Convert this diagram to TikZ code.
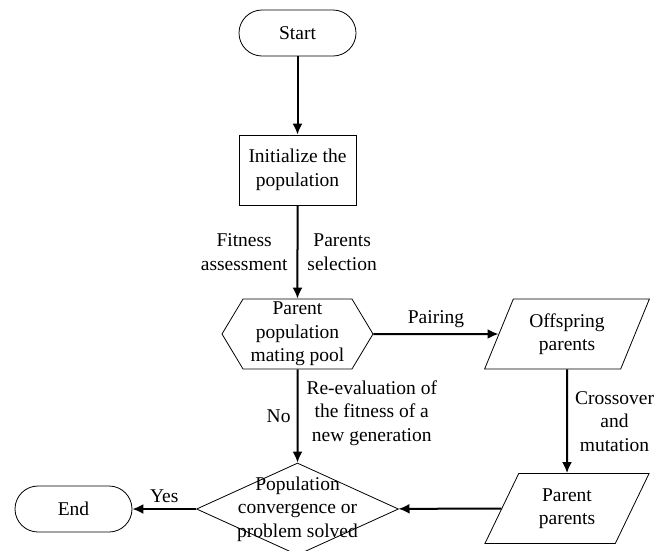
\documentclass[tikz,border=0pt]{standalone}
\usepackage{fontspec}
\setmainfont{Liberation Serif}
\usetikzlibrary{shapes.geometric,shapes.misc,shapes.symbols,arrows.meta}

\tikzset{
	term/.style={draw, line width=.8pt, rounded corners=23pt, minimum width=117pt, minimum height=46pt},
	proc/.style={draw, line width=.8pt, minimum width=117pt, minimum height=70pt, align=center},
	prep/.style={draw, line width=.8pt, signal, signal to=west and east, signal pointer angle=118, minimum width=151pt, minimum height=70pt, inner sep=0pt, align=center},
	io/.style={draw, line width=.8pt, trapezium, trapezium left angle=64, trapezium right angle=116, trapezium stretches=true, minimum width=165pt, minimum height=70pt, inner sep=0pt, align=center},
	flow/.style={line width=2pt, ->, >={Latex[length=11pt,width=10pt]}},
	tag/.style={align=center, inner sep=9pt},
}

\begin{document}
\begin{tikzpicture}[x=1pt, y=-1pt, font=\fontsize{19.5}{23.5}\selectfont]
	\useasboundingbox (0, 0) rectangle (659, 550);
	% boxes
	\node[term] (start) at (297.5, 33) {Start};
	\node[proc] (init) at (297.5, 170) {Initialize the\\population};
	\node[prep] (pool) at (297.5, 334) {Parent\\population\\mating pool};
	\node[io] (offspring) at (567, 334) {Offspring\\parents};
	\node[io] (parent) at (567, 508.5) {Parent\\parents};
	\node[draw, line width=.8pt, diamond, minimum width=202pt, minimum height=92pt, inner sep=0pt,
		label={[align=center]center:Population\\convergence or\\problem solved}] (check) at (297.5, 509) {};
	\node[term] (end) at (73.5, 509) {End};

	% arrows
	\draw[flow] (start) -- (init);
	\draw[flow] (init) -- node[tag, left]{Fitness\\assessment} node[tag, right]{Parents\\selection} (pool);
	\draw[flow] (pool.east) -- node[tag, above, inner sep=5pt]{Pairing} (offspring);
	\draw[flow] (offspring) -- node[tag, right, inner sep=7pt]{Crossover\\and\\mutation} (parent);
	\draw[flow] (parent) -- (check);
	\draw[flow] (pool) -- node[tag, left, inner sep=6pt]{No} node[tag, right, inner sep=8pt, yshift=3pt]{Re-evaluation of\\the fitness of a\\new generation} (check);
	\draw[flow] (check) -- node[tag, above, inner sep=5pt]{Yes} (end);
\end{tikzpicture}
\end{document}
